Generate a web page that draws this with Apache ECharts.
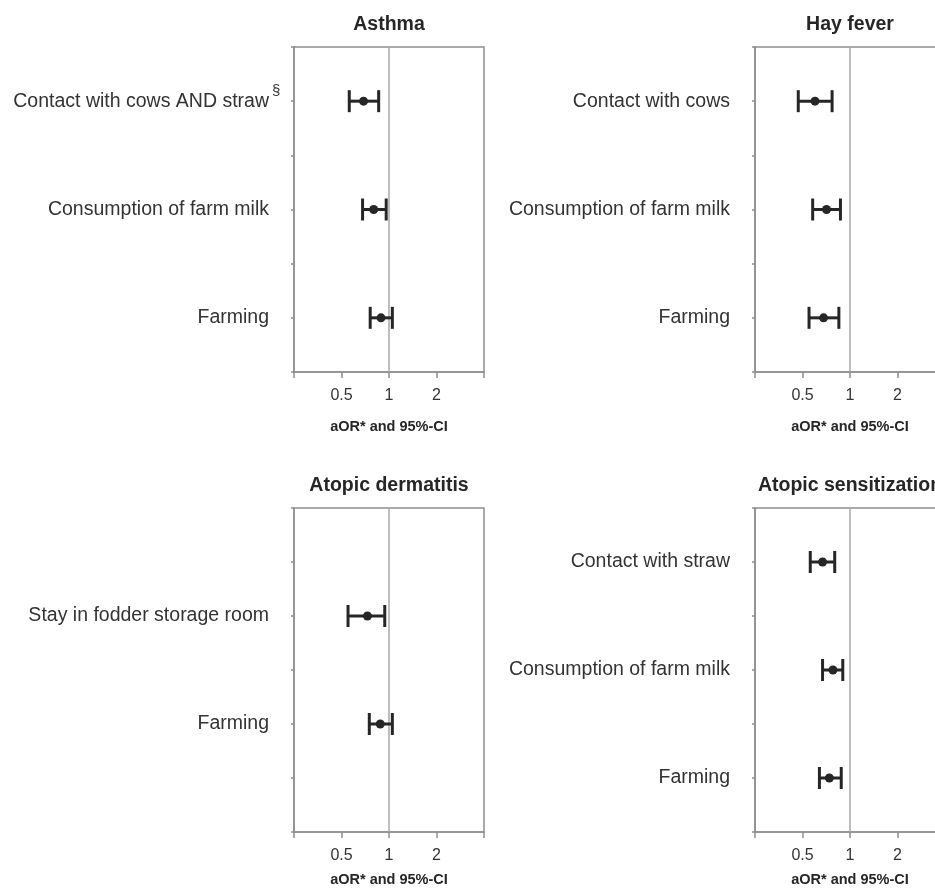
<!DOCTYPE html>
<html>
<head>
<meta charset="utf-8">
<script src="https://cdn.jsdelivr.net/npm/echarts@6/dist/echarts.min.js"></script>
<style>
  html, body { margin: 0; padding: 0; background: #ffffff; }
  #chart { width: 935px; height: 891px; }
</style>
</head>
<body>
<div id="chart"></div>
<script>
// Adjusted odds ratios (aOR) with 95% confidence intervals, one panel per outcome.
// Rows are slots on a 0..6 vertical scale (top to bottom).
const asthmaFactors = ['Contact with cows AND straw', 'Consumption of farm milk', 'Farming'];
const asthmaOR    = [0.69, 0.80, 0.89];
const asthmaLower = [0.56, 0.68, 0.76];
const asthmaUpper = [0.86, 0.96, 1.05];
const asthmaRows  = [1, 3, 5];

const hayFeverFactors = ['Contact with cows', 'Consumption of farm milk', 'Farming'];
const hayFeverOR    = [0.60, 0.71, 0.68];
const hayFeverLower = [0.47, 0.58, 0.55];
const hayFeverUpper = [0.77, 0.87, 0.85];
const hayFeverRows  = [1, 3, 5];

const dermatitisFactors = ['Stay in fodder storage room', 'Farming'];
const dermatitisOR    = [0.73, 0.88];
const dermatitisLower = [0.55, 0.75];
const dermatitisUpper = [0.94, 1.05];
const dermatitisRows  = [2, 4];

const sensitizationFactors = ['Contact with straw', 'Consumption of farm milk', 'Farming'];
const sensitizationOR    = [0.67, 0.78, 0.74];
const sensitizationLower = [0.56, 0.67, 0.64];
const sensitizationUpper = [0.80, 0.90, 0.88];
const sensitizationRows  = [1, 3, 5];

const xTickLabels = ['0.5', '1', '2'];
const xAxisTitle = 'aOR* and 95%-CI';
const referenceOR = 1;

const panels = [
  { title: 'Asthma', factors: asthmaFactors, or: asthmaOR, lo: asthmaLower, hi: asthmaUpper, rows: asthmaRows,
    grid: { left: 294, top: 47, width: 190, height: 325 }, nameGap: 47, note: { row: 0, mark: '§' } },
  { title: 'Hay fever', factors: hayFeverFactors, or: hayFeverOR, lo: hayFeverLower, hi: hayFeverUpper, rows: hayFeverRows,
    grid: { left: 755, top: 47, width: 190, height: 325 }, nameGap: 47 },
  { title: 'Atopic dermatitis', factors: dermatitisFactors, or: dermatitisOR, lo: dermatitisLower, hi: dermatitisUpper, rows: dermatitisRows,
    grid: { left: 294, top: 508, width: 190, height: 324 }, nameGap: 40 },
  { title: 'Atopic sensitization', factors: sensitizationFactors, or: sensitizationOR, lo: sensitizationLower, hi: sensitizationUpper, rows: sensitizationRows,
    grid: { left: 755, top: 508, width: 190, height: 324 }, nameGap: 40 }
];

const FONT = '"Liberation Sans", Arial, Helvetica, sans-serif';
const INK = '#262626';
const FRAME = '#8e8e8e';
const REFLINE = '#a9a9a9';

const chart = echarts.init(document.getElementById('chart'), null, { renderer: 'canvas' });

const grids = [], xAxes = [], yAxes = [], series = [];

panels.forEach((p, i) => {
  grids.push(Object.assign({
    show: true, borderColor: FRAME, borderWidth: 1.5, backgroundColor: 'transparent',
    containLabel: false, outerBoundsMode: 'none'
  }, p.grid));

  xAxes.push({
    type: 'log', logBase: 2, min: 0.25, max: 4, gridIndex: i,
    name: xAxisTitle, nameLocation: 'middle', nameGap: p.nameGap,
    nameTextStyle: { fontFamily: FONT, fontWeight: 'bold', fontSize: 14.5, color: INK },
    axisLine: { show: true, onZero: false, lineStyle: { color: FRAME, width: 1.5 } },
    axisTick: { show: true, length: 6, lineStyle: { color: FRAME, width: 1.5 } },
    splitLine: { show: false },
    minorTick: { show: false },
    axisLabel: {
      margin: 16, fontFamily: FONT, fontSize: 16, color: '#333',
      showMinLabel: true, showMaxLabel: true,
      formatter: v => {
        const hit = xTickLabels.find(t => Math.abs(Number(t) - v) < 1e-6);
        return hit || '';
      }
    }
  });

  yAxes.push({
    type: 'value', inverse: true, min: 0, max: 6, interval: 1, gridIndex: i,
    axisLine: { show: true, onZero: false, lineStyle: { color: FRAME, width: 1.5 } },
    axisTick: { show: true, length: 3, lineStyle: { color: FRAME, width: 1.5 } },
    splitLine: { show: false },
    axisLabel: {
      margin: 25, fontFamily: FONT, fontSize: 19.5, color: '#333',
      formatter: v => {
        const k = p.rows.indexOf(Math.round(v));
        return k >= 0 ? p.factors[k] : '';
      }
    }
  });

  // vertical line of no effect (aOR = 1)
  series.push({
    type: 'line', xAxisIndex: i, yAxisIndex: i, silent: true, symbol: 'none', z: 1,
    lineStyle: { color: REFLINE, width: 1.5 },
    data: [[referenceOR, 0], [referenceOR, 6]]
  });

  // point estimates with capped confidence intervals
  series.push({
    type: 'custom', xAxisIndex: i, yAxisIndex: i, z: 3,
    encode: { x: [1, 2, 3], y: 0 },
    data: p.rows.map((r, k) => [r, p.or[k], p.lo[k], p.hi[k]]),
    renderItem: (params, api) => {
      const row = api.value(0);
      const c = api.coord([api.value(1), row]);
      const a = api.coord([api.value(2), row]);
      const b = api.coord([api.value(3), row]);
      const cap = 11;
      const st = { stroke: INK, lineWidth: 3 };
      return {
        type: 'group',
        children: [
          { type: 'line', shape: { x1: a[0], y1: a[1], x2: b[0], y2: b[1] }, style: st },
          { type: 'line', shape: { x1: a[0], y1: a[1] - cap, x2: a[0], y2: a[1] + cap }, style: st },
          { type: 'line', shape: { x1: b[0], y1: b[1] - cap, x2: b[0], y2: b[1] + cap }, style: st },
          { type: 'circle', shape: { cx: c[0], cy: c[1], r: 4.5 }, style: { fill: INK } }
        ]
      };
    }
  });
});

chart.setOption({
  animation: false,
  backgroundColor: '#ffffff',
  grid: grids,
  xAxis: xAxes,
  yAxis: yAxes,
  series: series
});

// panel titles and footnote marks
const graphics = [];
panels.forEach((p, i) => {
  graphics.push({
    type: 'text', id: 'title' + i, silent: true,
    x: p.grid.left + p.grid.width / 2, y: p.grid.top - 22,
    style: { text: p.title, font: 'bold 19.5px ' + FONT, fill: INK, align: 'center', verticalAlign: 'middle' }
  });
  if (p.note) {
    const yPix = chart.convertToPixel({ yAxisIndex: i }, p.rows[p.note.row]);
    graphics.push({
      type: 'text', id: 'note' + i, silent: true,
      x: p.grid.left - 22, y: yPix - 10,
      style: { text: p.note.mark, font: '15px ' + FONT, fill: '#333', align: 'left', verticalAlign: 'middle' }
    });
  }
});
chart.setOption({ graphic: graphics });
</script>
</body>
</html>
